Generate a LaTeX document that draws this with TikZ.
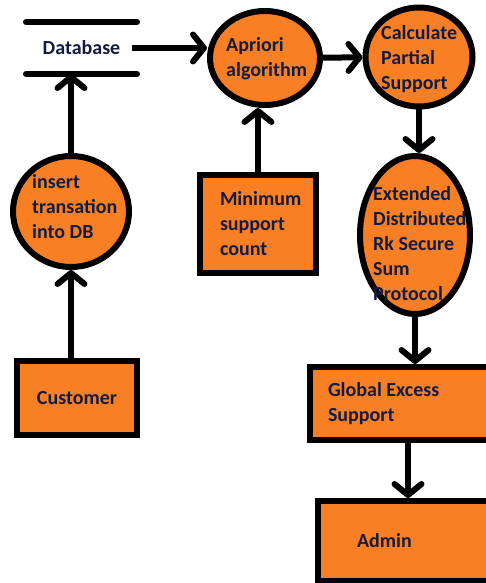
\documentclass[tikz,border=0pt]{standalone}
\usepackage{fontspec}
\setmainfont{Carlito}
\usetikzlibrary{shapes.geometric,arrows.meta}
\definecolor{paintorange}{RGB}{249,127,36}
\definecolor{inkblue}{RGB}{20,28,62}
\begin{document}
\begin{tikzpicture}[x=1pt, y=-1pt,
  every node/.style={font=\bfseries\fontsize{20}{25}\selectfont, text=inkblue},
  process/.style={ellipse, draw, line width=6pt, fill=paintorange, inner sep=0pt},
  entity/.style={rectangle, draw, line width=6pt, fill=paintorange, align=flush left},
  words/.style={align=flush left, inner sep=0pt},
  flow/.style={line width=6pt, -{Straight Barb[length=11pt, width=27pt, round]}}]
  \useasboundingbox (0, 0) rectangle (486, 583);
  \clip (0, 0) rectangle (486, 583);
  % data store
  \node[minimum width=111pt, minimum height=52pt, outer sep=0pt] (db) at (81.5, 48) {Database};
  \draw[line width=6pt, line cap=round] (db.north west) -- (db.north east);
  \draw[line width=6pt, line cap=round] (db.south west) -- (db.south east);
  % processes
  \node[process, minimum width=110pt, minimum height=94pt] (apriori) at (265, 58) {};
  \node[words, anchor=west] (apriori text) at (226, 59) {Apriori\\algorithm};
  \node[process, minimum width=107pt, minimum height=99pt] (partial) at (419, 57) {};
  \node[words, anchor=west] (partial text) at (381, 59.5) {Calculate\\Partial\\Support};
  \node[process, minimum width=110pt, minimum height=158pt] (secure) at (415, 235) {};
  \node[words, anchor=west] (secure text) at (373, 244) {Extended\\Distributed\\Rk Secure\\Sum\\Protocol};
  \node[process, minimum width=116pt, minimum height=111pt] (insert) at (71, 211.5) {};
  \node[words, anchor=west] (insert text) at (32, 207) {insert\\transation\\into DB};
  % entities
  \node[entity, minimum width=116pt, minimum height=98pt, text width=76pt] (mincount) at (258, 224) {Minimum\\support\\count};
  \node[entity, minimum width=120pt, minimum height=74pt, align=center] (customer) at (77, 398) {Customer};
  \node[entity, minimum width=196pt, minimum height=73pt, text width=160pt] (global) at (408, 403.5) {Global Excess\\Support};
  \node[entity, minimum width=202pt, minimum height=80pt, text width=124pt] (admin) at (419, 541) {Admin};
  % flows
  \draw[flow] ([xshift=-5pt]db.east) -- (db.east -| apriori.west);
  \draw[flow] (apriori) -- (partial);
  \draw[flow] (partial.south) -- (partial.south |- secure.north);
  \draw[flow] (secure.south) -- (secure.south |- global.north);
  \draw[flow] (global.south) -- (global.south |- admin.north);
  \draw[flow] (mincount.north) -- (mincount.north |- apriori.south);
  \draw[flow] (insert.north) -- (insert.north |- db.south);
  \draw[flow] (insert.south |- customer.north) -- (insert.south);
\end{tikzpicture}
\end{document}
